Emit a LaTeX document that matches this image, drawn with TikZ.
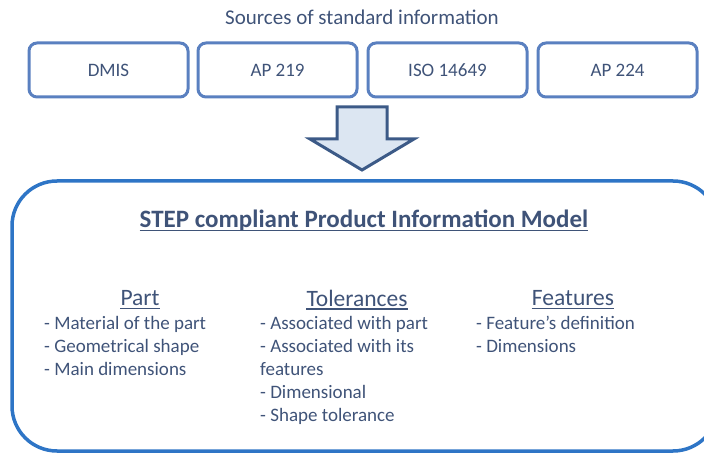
\documentclass[tikz,border=0pt]{standalone}
\usepackage{fontspec}
\setmainfont{Carlito}
\definecolor{txt}{HTML}{3F5378}
\definecolor{srcline}{HTML}{5A80C0}
\definecolor{bigline}{HTML}{2E75C6}
\definecolor{arrline}{HTML}{3C5A87}
\definecolor{arrfill}{HTML}{DCE6F2}
\begin{document}
\begin{tikzpicture}[x=1pt,y=-1pt,
  srcbox/.style={draw=srcline,line width=3pt,rounded corners=8pt,minimum width=159pt,minimum height=54pt,text=txt,font=\fontsize{19}{22}\selectfont,inner sep=0pt},
  heading/.style={text=txt,font=\fontsize{23.5}{28}\selectfont,inner sep=0pt},
  uline/.style={draw=txt,line width=1.2pt},
  listtxt/.style={text=txt,font=\fontsize{19}{23}\selectfont,align=left,anchor=north west,inner sep=0pt}]
\useasboundingbox (0,0) rectangle (704,454);
\node[text=txt,font=\fontsize{21}{24}\selectfont,inner sep=0pt] (src) at (362,17) {Sources of standard information};
\node[srcbox] (dmis) at (108.5,70) {DMIS};
\node[srcbox] (ap219) at (277.5,70) {AP 219};
\node[srcbox] (iso) at (447.5,70) {ISO 14649};
\node[srcbox] (ap224) at (617.5,70) {AP 224};
\draw[draw=arrline,fill=arrfill,line width=3pt,line join=miter]
  (337,107) -- (387,107) -- (387,139) -- (414,139) -- (362,170) -- (310,139) -- (337,139) -- cycle;
\draw[draw=bigline,line width=3.5pt,rounded corners=45pt] (12,181) rectangle (718,451);
\node[text=txt,font=\fontsize{25}{30}\selectfont\bfseries,inner sep=0pt] (title) at (364,221) {STEP compliant Product Information Model};
\node[heading] (part) at (140,298) {Part};
\node[heading] (tol) at (357,298) {Tolerances};
\node[heading] (feat) at (573,298) {Features};
\foreach \n in {title,part,tol,feat}
  \draw[uline] ([yshift=-3pt]\n.base west) -- ([yshift=-3pt]\n.base east);
\node[listtxt] (partl) at (44,316) {- Material of the part\\- Geometrical shape\\- Main dimensions};
\node[listtxt] (toll) at (260,316) {- Associated with part\\- Associated with its\\features\\- Dimensional\\- Shape tolerance};
\node[listtxt] (featl) at (476,316) {- Feature’s definition\\- Dimensions};
\end{tikzpicture}
\end{document}
